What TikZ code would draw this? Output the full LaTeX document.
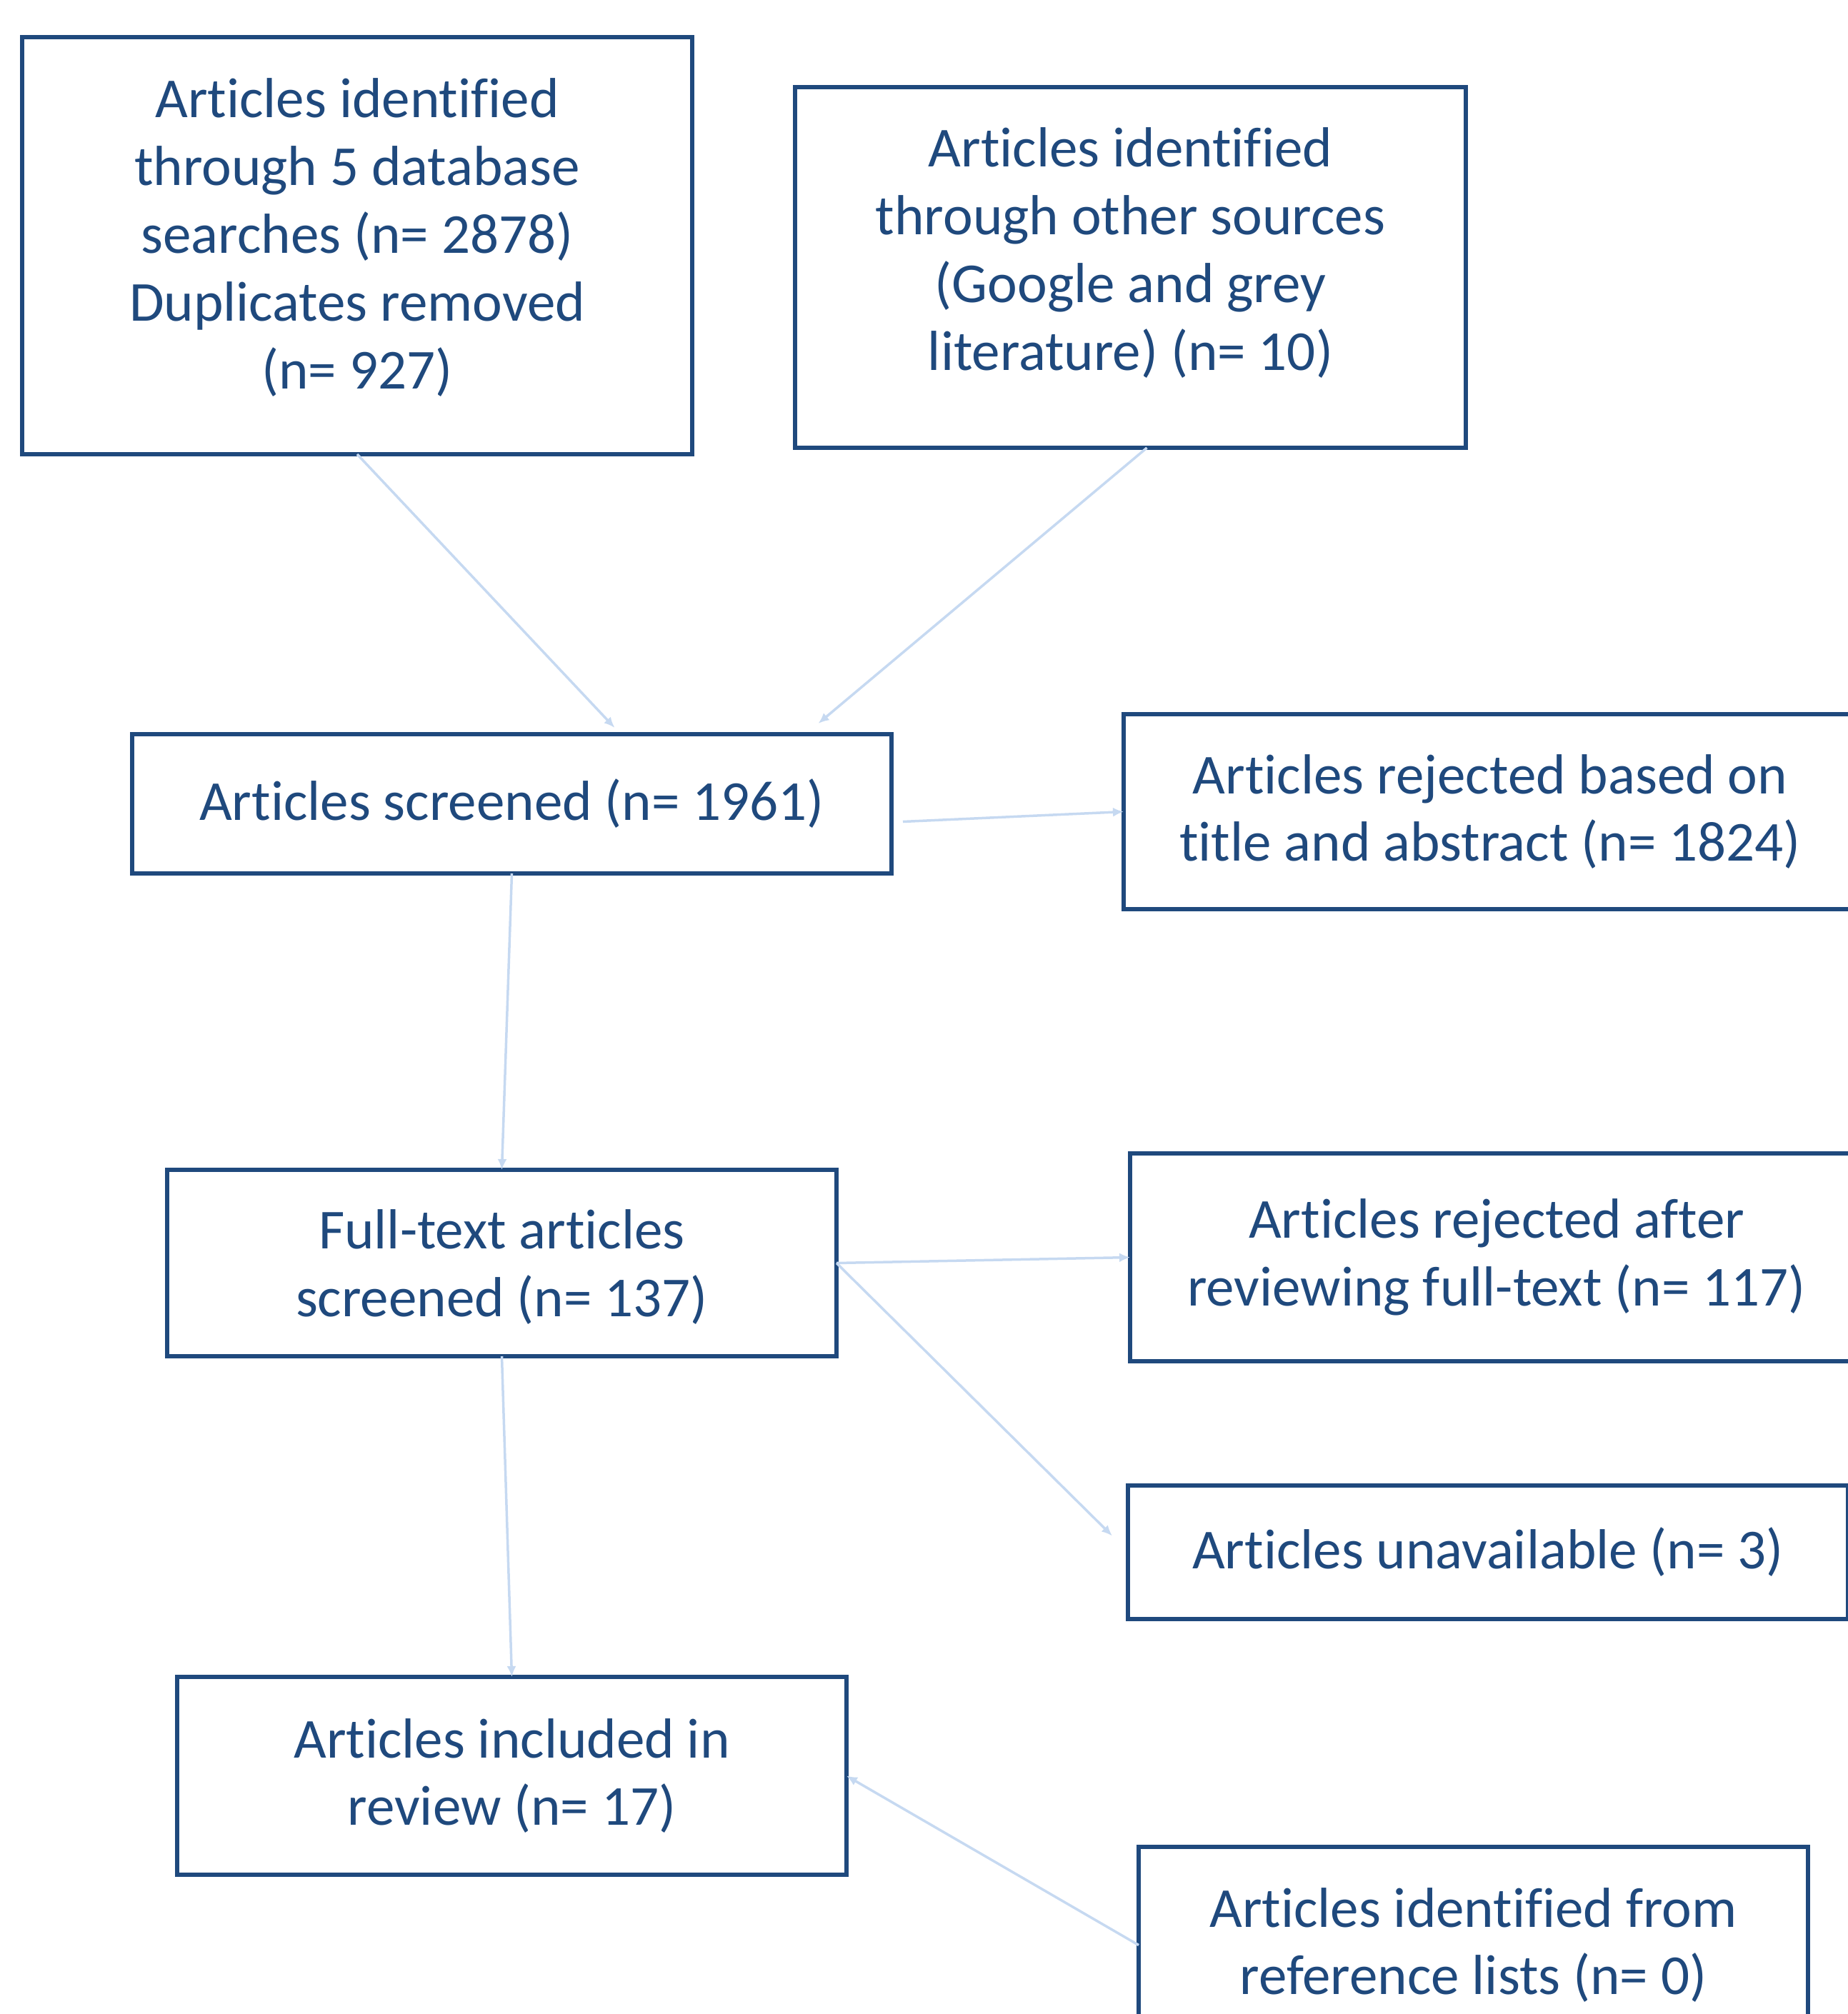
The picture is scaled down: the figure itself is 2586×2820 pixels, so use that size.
\documentclass[tikz,border=0pt]{standalone}
\usepackage{fontspec}
\setmainfont[Ligatures=NoCommon]{Carlito}
\usetikzlibrary{arrows.meta}
\definecolor{boxblue}{HTML}{1F497D}
\definecolor{linkblue}{HTML}{C6D9F1}
\begin{document}
\begin{tikzpicture}[x=0.1mm,y=-0.1mm,
    box/.style={draw=boxblue,line width=0.55mm,text=boxblue,align=center,inner sep=0pt,outer sep=0pt,
      font=\fontsize{22.5}{27}\selectfont},
    link/.style={draw=linkblue,line width=0.35mm,-{Latex[length=1.5mm,width=1.3mm]}}]
  \useasboundingbox (0,0) rectangle (2586,2820);
  \node[box,minimum width=93.8mm,minimum height=58.4mm,text depth=3.4mm] (db) at (500,344) {Articles identified\\through 5 database\\searches (n= 2878)\\Duplicates removed\\(n= 927)};
  \node[box,minimum width=93.9mm,minimum height=50.5mm,text depth=5.2mm] (other) at (1582.5,374.5) {Articles identified\\through other sources\\(Google and grey\\literature) (n= 10)};
  \node[box,minimum width=106.3mm,minimum height=19.5mm] (scr) at (716.5,1125.5) {Articles screened (n= 1961)};
  \node[box,minimum width=102.6mm,minimum height=27.3mm] (rej1) at (2086,1136.5) {Articles rejected based on\\title and abstract (n= 1824)};
  \node[box,minimum width=93.7mm,minimum height=26.1mm,text depth=0mm] (ft) at (702.5,1768.5) {Full-text articles\\screened (n= 137)};
  \node[box,minimum width=102.6mm,minimum height=29.1mm] (rej2) at (2095,1760.5) {Articles rejected after\\reviewing full-text (n= 117)};
  \node[box,minimum width=100.8mm,minimum height=18.7mm] (unav) at (2083,2173.5) {Articles unavailable (n= 3)};
  \node[box,minimum width=93.7mm,minimum height=27.7mm] (inc) at (716.5,2486.5) {Articles included in\\review (n= 17)};
  \node[box,minimum width=93.7mm,minimum height=27.5mm] (ref) at (2062.5,2723.5) {Articles identified from\\reference lists (n= 0)};
  \draw[link] (db.south) -- ([xshift=14.4mm,yshift=0.9mm]scr.north);
  \draw[link] ([xshift=2.3mm]other.south) -- ([xshift=42.9mm,yshift=1.5mm]scr.north);
  \draw[link] ([xshift=1.6mm,yshift=-2.5mm]scr.east) -- (rej1.west);
  \draw[link] (scr.south) -- (ft.north);
  \draw[link] (ft.east) -- (rej2.west);
  \draw[link] (ft.east) -- ([xshift=-2.2mm,yshift=2.3mm]unav.west);
  \draw[link] (ft.south) -- (inc.north);
  \draw[link] (ref.west) -- (inc.east);
\end{tikzpicture}
\end{document}
